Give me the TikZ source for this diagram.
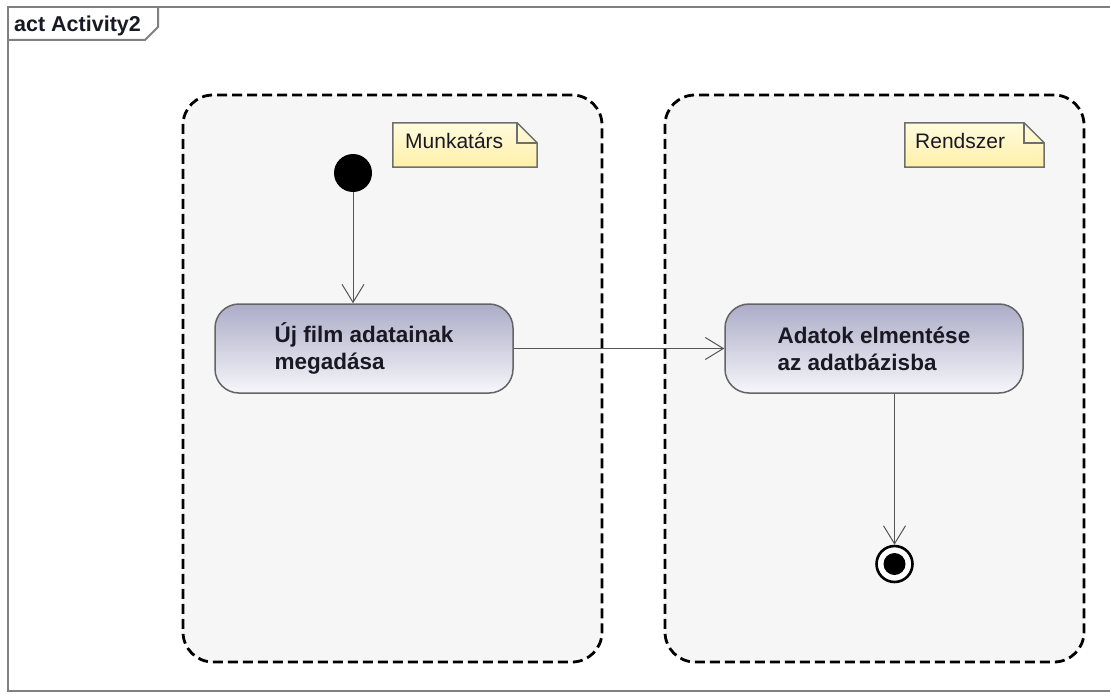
\documentclass[tikz,border=0pt]{standalone}
\usepackage{fontspec}
\setmainfont{Liberation Sans}
\usetikzlibrary{arrows.meta}

\definecolor{frameline}{RGB}{128,128,128}
\definecolor{lanefill}{RGB}{246,246,246}
\definecolor{actiontop}{RGB}{172,172,200}
\definecolor{actionbottom}{RGB}{246,246,250}
\definecolor{actionline}{RGB}{100,100,100}
\definecolor{notetop}{RGB}{255,251,222}
\definecolor{notebottom}{RGB}{255,239,168}
\definecolor{noteline}{RGB}{110,110,110}
\definecolor{flowline}{RGB}{85,85,85}
\definecolor{ink}{RGB}{25,25,35}

\tikzset{
  frame/.style={draw=frameline, line width=2pt},
  lane/.style={draw=black, fill=lanefill, line width=2.8pt,
    dash pattern=on 10pt off 5pt, rounded corners=30pt, inner sep=0pt},
  action/.style={draw=actionline, line width=1.5pt, rounded corners=24pt,
    top color=actiontop, bottom color=actionbottom,
    minimum width=298pt, minimum height=89pt, inner sep=0pt,
    align=left, text=ink, font=\bfseries\fontsize{22.5}{27}\selectfont},
  notebox/.style={inner sep=0pt},
  notefill/.style={top color=notetop, bottom color=notebottom},
  noteedge/.style={draw=noteline, line width=1.5pt, line join=miter},
  notetext/.style={anchor=base west, inner sep=0pt, text=ink,
    font=\fontsize{21}{25}\selectfont},
  initialnode/.style={circle, fill=black, minimum size=38pt, inner sep=0pt},
  finalnode/.style={circle, draw=black, fill=white, line width=2.6pt,
    minimum size=36pt, inner sep=0pt,
    path picture={\fill[black] (path picture bounding box.center) circle (11pt);}},
  flow/.style={draw=flowline, line width=1pt,
    -{Straight Barb[length=18pt, width=22pt, line width=1pt]}},
  header/.style={anchor=base west, inner sep=0pt, text=ink,
    font=\bfseries\fontsize{21.5}{25}\selectfont}
}

\begin{document}
\begin{tikzpicture}[x=1pt, y=-1pt]
  \useasboundingbox (0,0) rectangle (1110,693);
  \fill[white] (0,0) rectangle (1110,693);

  % diagram frame with its name tab
  \begin{scope}
    \clip (0,0) rectangle (1110,693);
    \draw[frame] (1120,7) -- (8,7) -- (8,691) -- (1120,691);
    \draw[frame] (8,40) -- (145,40) -- (158,27) -- (158,7);
  \end{scope}
  \node[header] (hdr) at (14,32) {act Activity2};

  % partitions
  \node[lane, minimum width=419pt, minimum height=567pt] (laneA) at (392.5,378.5) {};
  \node[lane, minimum width=419pt, minimum height=567pt] (laneB) at (874.5,378.5) {};

  % partition notes
  \node[notebox, minimum width=144pt, minimum height=44pt] (noteA) at (465,145) {};
  \shade[notefill] (noteA.north west) -- ([xshift=-20pt]noteA.north east)
    -- ([yshift=-20pt]noteA.north east) -- (noteA.south east) -- (noteA.south west) -- cycle;
  \draw[noteedge] (noteA.north west) -- ([xshift=-20pt]noteA.north east)
    -- ([yshift=-20pt]noteA.north east) -- (noteA.south east) -- (noteA.south west) -- cycle;
  \draw[noteedge] ([xshift=-20pt]noteA.north east) -- ([xshift=-20pt,yshift=-20pt]noteA.north east)
    -- ([yshift=-20pt]noteA.north east);
  \node[notetext] (noteAtext) at (405,148) {Munkatárs};

  \node[notebox, minimum width=139pt, minimum height=44pt] (noteB) at (974.5,145) {};
  \shade[notefill] (noteB.north west) -- ([xshift=-20pt]noteB.north east)
    -- ([yshift=-20pt]noteB.north east) -- (noteB.south east) -- (noteB.south west) -- cycle;
  \draw[noteedge] (noteB.north west) -- ([xshift=-20pt]noteB.north east)
    -- ([yshift=-20pt]noteB.north east) -- (noteB.south east) -- (noteB.south west) -- cycle;
  \draw[noteedge] ([xshift=-20pt]noteB.north east) -- ([xshift=-20pt,yshift=-20pt]noteB.north east)
    -- ([yshift=-20pt]noteB.north east);
  \node[notetext] (noteBtext) at (915,148) {Rendszer};

  % activity nodes
  \node[initialnode] (start) at (353,173) {};
  \node[action] (act1) at (364,348.5) {Új film adatainak\\megadása};
  \node[action] (act2) at (874,348.5) {Adatok elmentése\\az adatbázisba};
  \node[finalnode] (end) at (894.5,564) {};

  % control flows
  \draw[flow] (start) -- (start |- act1.north);
  \draw[flow] (act1.east) -- (act2.west);
  \draw[flow] (end |- act2.south) -- (end.north);
\end{tikzpicture}
\end{document}
